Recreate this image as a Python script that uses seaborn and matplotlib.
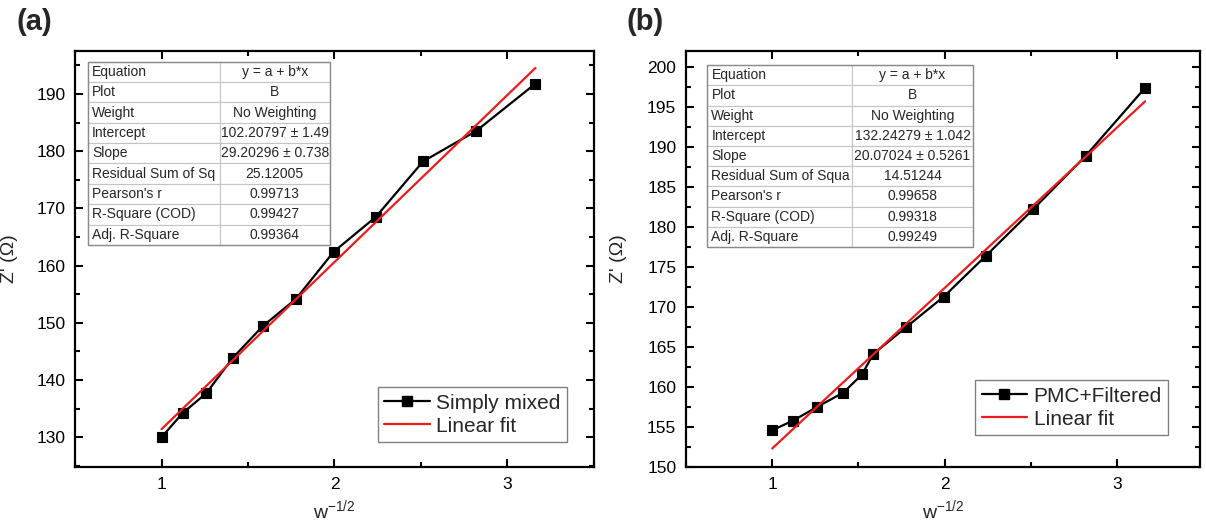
"""
Z' vs w^-1/2 with linear fits, two panels (Simply mixed / PMC+Filtered).
"""
import numpy as np
import pandas as pd
import matplotlib
matplotlib.use('Agg')
import matplotlib.pyplot as plt
import seaborn as sns
from matplotlib.ticker import MultipleLocator
from matplotlib.lines import Line2D
from matplotlib.patches import Rectangle

# --- data ---
x_a = [1.000, 1.122, 1.259, 1.413, 1.585, 1.778, 1.995, 2.239, 2.512, 2.818, 3.162]
z_a = [130.0, 134.2, 137.7, 143.9, 149.4, 154.2, 162.4, 168.5, 178.2, 183.5, 191.8]
fit_a = (102.20797, 29.20296)  # intercept, slope
label_a = "Simply mixed"
table_a = [
    ["Equation", "y = a + b*x"],
    ["Plot", "B"],
    ["Weight", "No Weighting"],
    ["Intercept", "102.20797 ± 1.49"],
    ["Slope", "29.20296 ± 0.738"],
    ["Residual Sum of Sq", "25.12005"],
    ["Pearson's r", "0.99713"],
    ["R-Square (COD)", "0.99427"],
    ["Adj. R-Square", "0.99364"],
]

x_b = [1.000, 1.122, 1.259, 1.413, 1.522, 1.585, 1.778, 1.995, 2.239, 2.512, 2.818, 3.162]
z_b = [154.6, 155.8, 157.5, 159.3, 161.6, 164.1, 167.5, 171.3, 176.4, 182.2, 188.9, 197.4]
fit_b = (132.24279, 20.07024)
label_b = "PMC+Filtered"
table_b = [
    ["Equation", "y = a + b*x"],
    ["Plot", "B"],
    ["Weight", "No Weighting"],
    ["Intercept", "132.24279 ± 1.042"],
    ["Slope", "20.07024 ± 0.5261"],
    ["Residual Sum of Squa", "14.51244"],
    ["Pearson's r", "0.99658"],
    ["R-Square (COD)", "0.99318"],
    ["Adj. R-Square", "0.99249"],
]

RED = "#ec1c1c"

sns.set_style("ticks")
plt.rcParams['font.family'] = ['Liberation Sans', 'DejaVu Sans']
plt.rcParams['mathtext.fontset'] = 'custom'
plt.rcParams['mathtext.rm'] = 'Liberation Sans'
plt.rcParams['mathtext.it'] = 'Liberation Sans'

fig = plt.figure(figsize=(12.06, 5.30), dpi=100)
ax_a = fig.add_axes([0.0622, 0.1189, 0.4303, 0.7849])
ax_b = fig.add_axes([0.5688, 0.1189, 0.4262, 0.7849])


def draw_panel(ax, x, z, fit, label, table, xlim, ylim, ymaj, ymin,
               tbl_box, col_w, leg_anchor, ylab_x):
    df = pd.DataFrame({"x": x, "z": z})
    sns.lineplot(data=df, x="x", y="z", ax=ax, color="black", lw=1.6,
                 marker="s", markersize=6.5, markeredgecolor="black",
                 markeredgewidth=0.8)
    xs = np.array([x[0], x[-1]])
    fit_df = pd.DataFrame({"x": xs, "z": fit[0] + fit[1] * xs})
    sns.lineplot(data=fit_df, x="x", y="z", ax=ax, color=RED, lw=1.6)

    ax.set_xlim(*xlim)
    ax.set_ylim(*ylim)
    ax.xaxis.set_major_locator(MultipleLocator(1))
    ax.xaxis.set_minor_locator(MultipleLocator(0.5))
    ax.yaxis.set_major_locator(MultipleLocator(ymaj))
    ax.yaxis.set_minor_locator(MultipleLocator(ymin))
    ax.tick_params(which='both', direction='in', top=True, right=True,
                   labelsize=12.5, colors='black', pad=7)
    ax.tick_params(which='major', length=6, width=1.5)
    ax.tick_params(which='minor', length=3.5, width=1.5)
    for sp in ax.spines.values():
        sp.set_linewidth(1.6)
        sp.set_color("black")
    ax.set_xlabel(r"w$^{-1/2}$", fontsize=14)
    ax.set_ylabel("Z' (Ω)", fontsize=14)
    ax.xaxis.set_label_coords(0.5, -0.075)
    ax.yaxis.set_label_coords(ylab_x, 0.5)

    # fit-results table (Origin style)
    tbl = ax.table(cellText=table, colWidths=col_w, bbox=tbl_box,
                   cellLoc='center', zorder=5)
    tbl.auto_set_font_size(False)
    for (r, c), cell in tbl.get_celld().items():
        cell.set_fontsize(10)
        cell.set_edgecolor("#c4c4c4")
        cell.set_linewidth(0.8)
        cell.set_facecolor("white")
        if c == 0:
            cell.set_text_props(ha='left')
            cell.PAD = 0.03
    ax.add_patch(Rectangle((tbl_box[0], tbl_box[1]), tbl_box[2], tbl_box[3],
                           transform=ax.transAxes, fill=False,
                           edgecolor="#8a8a8a", lw=1.0, zorder=6))

    handles = [
        Line2D([], [], color="black", lw=1.6, marker="s", markersize=6.5),
        Line2D([], [], color=RED, lw=1.6),
    ]
    leg = ax.legend(handles, [label, "Linear fit"], loc="lower right",
                    bbox_to_anchor=leg_anchor, borderaxespad=0,
                    fontsize=15, fancybox=False, framealpha=1,
                    edgecolor="#808080", handlelength=2.2,
                    handletextpad=0.3, borderpad=0.3, labelspacing=0.2)
    leg.get_frame().set_linewidth(1.0)


draw_panel(ax_a, x_a, z_a, fit_a, label_a, table_a, (0.5, 3.5),
           (124.8, 197.5), 10, 5,
           [0.025, 0.534, 0.466, 0.44], [0.545, 0.455], (0.948, 0.060),
           -0.11)
draw_panel(ax_b, x_b, z_b, fit_b, label_b, table_b, (0.5, 3.48),
           (150, 202), 5, 2.5,
           [0.041, 0.529, 0.5175, 0.437], [0.545, 0.455], (0.938, 0.077),
           -0.115)

fig.text(17 / 1206, 1 - 22 / 530, "(a)", fontsize=21, fontweight='bold',
         va='center', ha='left')
fig.text(626 / 1206, 1 - 22 / 530, "(b)", fontsize=21, fontweight='bold',
         va='center', ha='left')

fig.savefig("out.png", dpi=100)
plt.close(fig)
